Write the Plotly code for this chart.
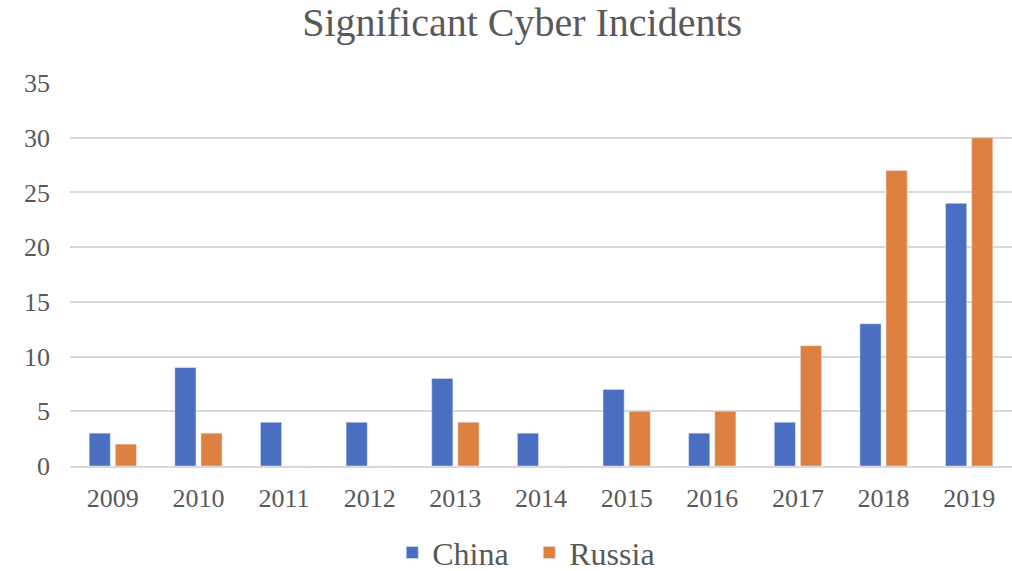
import plotly.graph_objects as go

years = ["2009", "2010", "2011", "2012", "2013", "2014", "2015", "2016", "2017", "2018", "2019"]
china = [3, 9, 4, 4, 8, 3, 7, 3, 4, 13, 24]
russia = [2, 3, 0, 0, 4, 0, 5, 5, 11, 27, 30]

font_family = "Liberation Serif, Times New Roman, serif"
grey = "#595959"

fig = go.Figure()
fig.add_trace(go.Bar(name="China", x=years, y=china, marker_color="#4a6fc2"))
fig.add_trace(go.Bar(name="Russia", x=years, y=russia, marker_color="#dd8040"))

fig.update_layout(
    width=1012, height=571,
    barmode="group", bargap=0.39, bargroupgap=0.19,
    paper_bgcolor="white", plot_bgcolor="white",
    margin=dict(l=70, r=0, t=83, b=105),
    title=dict(text="Significant Cyber Incidents", x=0.516, xanchor="center",
               y=0.962, yanchor="middle",
               font=dict(family=font_family, size=40, color=grey)),
    font=dict(family=font_family, color=grey),
    legend=dict(orientation="h", xref="container", x=0.523, xanchor="center",
                yref="container", y=0.032, yanchor="middle",
                font=dict(family=font_family, size=32, color=grey),
                itemwidth=30, entrywidth=92, tracegroupgap=0),
    showlegend=True,
)
fig.update_yaxes(range=[0, 35], dtick=5, showgrid=True, gridcolor="#d9d9d9", gridwidth=1.5,
                 zeroline=False, showline=False, ticks="", ticklabelstandoff=19,
                 tickfont=dict(family=font_family, size=26, color=grey))
fig.update_xaxes(showline=True, linecolor="#d9d9d9", linewidth=1.5, ticks="",
                 ticklabelstandoff=8,
                 tickfont=dict(family=font_family, size=26, color=grey))

fig.write_html("out.html", config={"displayModeBar": False},
               post_script="document.body.style.margin='0';")
